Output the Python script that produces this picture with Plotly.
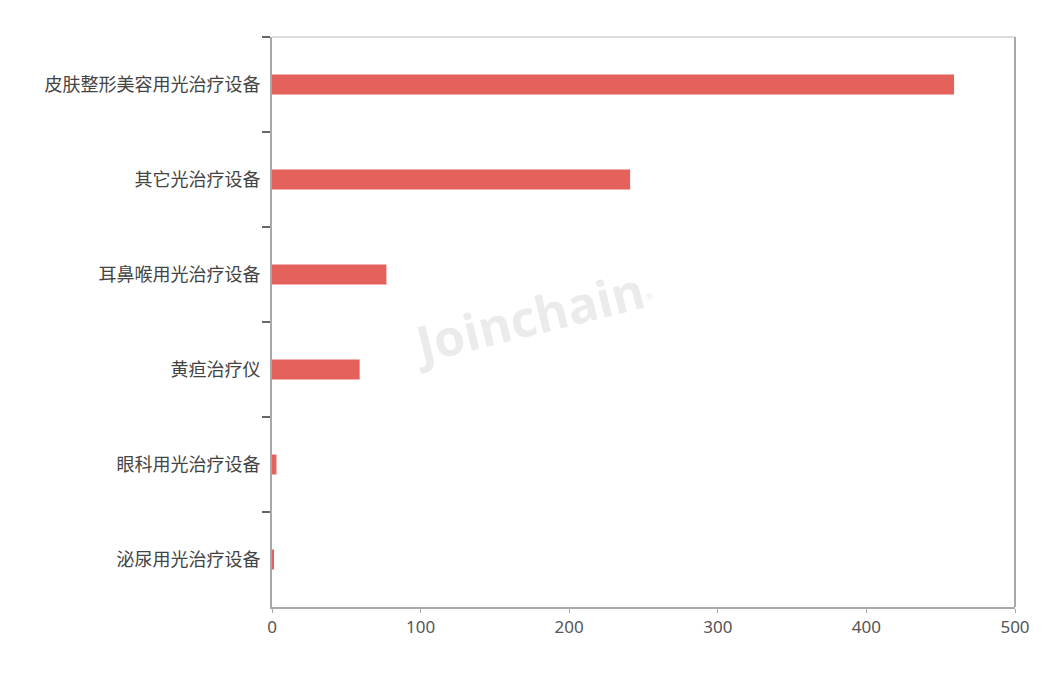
import plotly.graph_objects as go

categories = ['皮肤整形美容用光治疗设备', '其它光治疗设备', '耳鼻喉用光治疗设备',
              '黄疸治疗仪', '眼科用光治疗设备', '泌尿用光治疗设备']
values = [459, 241, 77, 59, 3, 1]

bar_color = '#E5615C'
axis_color = '#A9A9A9'

fig = go.Figure()
fig.add_trace(go.Bar(
    x=values, y=categories, orientation='h',
    width=0.21, marker=dict(color=bar_color, line=dict(width=0)),
    hoverinfo='x+y'))

# page body adds ~7px offset, margins compensate for it
fig.update_layout(
    width=1058, height=675,
    margin=dict(l=264, r=51, t=29, b=76),
    paper_bgcolor='white', plot_bgcolor='white',
    showlegend=False,
    font=dict(family='Noto Sans CJK SC, Noto Sans, sans-serif', color='#444'),
    xaxis=dict(
        range=[0, 500], tickvals=[0, 100, 200, 300, 400, 500],
        showgrid=False, zeroline=False,
        showline=True, linecolor=axis_color, linewidth=2,
        ticks='outside', ticklen=4, tickcolor=axis_color, tickwidth=1,
        tickfont=dict(size=17, color='#555', family='Noto Sans, sans-serif'),
    ),
    yaxis=dict(
        categoryorder='array', categoryarray=categories,
        autorange='reversed', tickson='boundaries',
        showgrid=False, zeroline=False,
        showline=True, linecolor=axis_color, linewidth=2,
        ticks='outside', ticklen=8, tickcolor='#666', tickwidth=2,
        ticklabelstandoff=6,
        tickfont=dict(size=18, color='#444'),
    ),
)

# top and right frame lines
fig.add_shape(type='line', xref='paper', yref='paper', x0=0, x1=1, y0=1, y1=1,
              line=dict(color='#DDDDDD', width=2))
fig.add_shape(type='line', xref='paper', yref='paper', x0=1, x1=1, y0=0, y1=1,
              line=dict(color=axis_color, width=2))

# watermark
fig.add_annotation(xref='paper', yref='paper', x=0.35, y=0.51,
                   text="<b>Joinchain</b><span style='font-size:14px'><sup>®</sup></span>",
                   showarrow=False, textangle=-14,
                   font=dict(size=50, color='rgba(205,205,205,0.4)', family='Open Sans, sans-serif'))

fig.write_html('out.html')
